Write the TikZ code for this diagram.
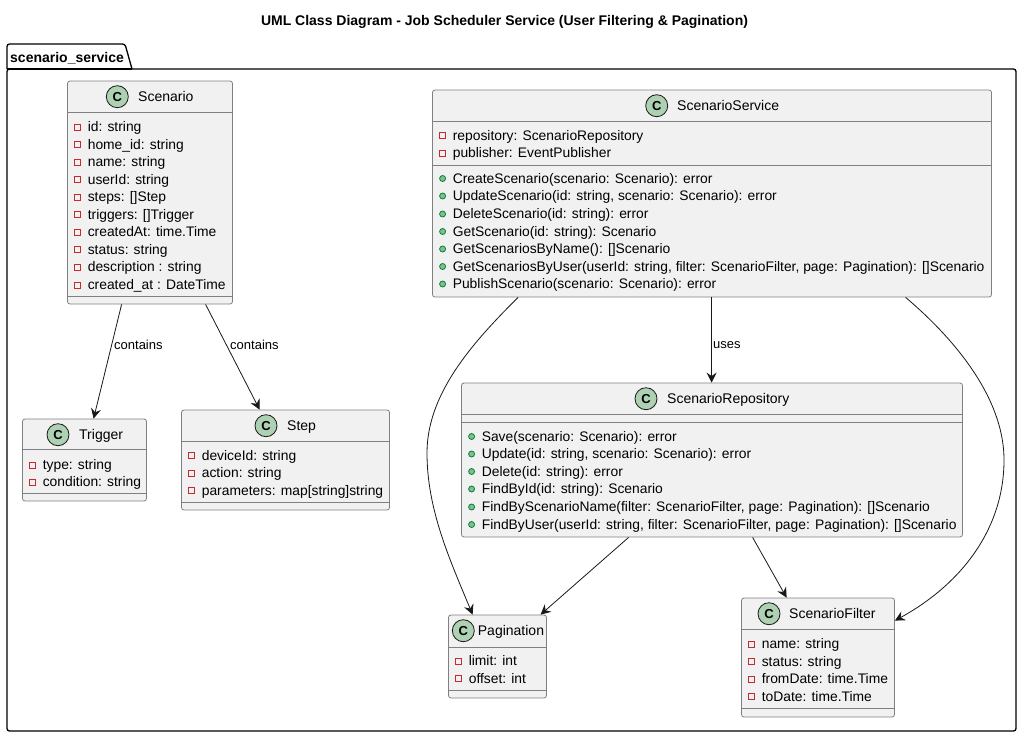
\documentclass[tikz,border=0pt]{standalone}
\usepackage{fontspec}
\setmainfont{Liberation Sans}
\usepackage{tikz}
\usetikzlibrary{arrows.meta, calc}
\definecolor{boxFill}{RGB}{241,241,241}
\definecolor{boxLine}{RGB}{128,128,128}
\definecolor{lineDark}{RGB}{24,24,24}
\definecolor{spotFill}{RGB}{173,209,178}
\definecolor{privRed}{RGB}{200,41,48}
\definecolor{pubFill}{RGB}{132,190,132}
\definecolor{pubLine}{RGB}{3,128,72}
\tikzset{
  classbox/.style={draw=boxLine, fill=boxFill, line width=0.8pt, rounded corners=2.5pt, inner sep=0pt},
  classline/.style={draw=boxLine, line width=0.8pt},
  spot/.style={circle, draw=lineDark, fill=spotFill, line width=0.8pt, minimum size=22pt, inner sep=0pt, font=\fontsize{13}{13}\selectfont\bfseries},
  classtitle/.style={anchor=base west, inner sep=0pt, font=\fontsize{14}{16}\selectfont, text=black},
  membertext/.style={anchor=base west, inner sep=0pt, font=\fontsize{13.85}{15}\selectfont, text=black},
  privmark/.style={rectangle, draw=privRed, line width=0.8pt, minimum size=6pt, inner sep=0pt},
  pubmark/.style={circle, draw=pubLine, fill=pubFill, line width=0.8pt, minimum size=6pt, inner sep=0pt},
  dep/.style={draw=lineDark, line width=0.8pt, -{Stealth[length=10pt, width=10pt, inset=3.5pt]}},
  deplabel/.style={anchor=west, inner sep=0pt, font=\fontsize{13}{15}\selectfont, text=black},
}
% box, spot and title of one class
\newcommand{\umlclass}[8]{
  \node[classbox, minimum width=#4-#2, minimum height=#5-#3] (#1) at ({(#2+#4)/2},{(#3+#5)/2}) {};
  \node[spot] (#1-spot) at (#7,#3+15.7) {C};
  \node[classtitle] (#1-title) at (#8,#3+20.5) {#6};
}
\newcommand{\umlsep}[2]{
  \draw[classline] (#1.west |- 0,#2) -- (#1.east |- 0,#2);
}
\newcommand{\umlfields}[2]{
  \foreach \ypos/\txt in {#2}{
    \node[privmark] (#1-m\ypos) at ([xshift=10.5pt]#1.west |- 0,\ypos) {};
    \node[membertext] (#1-t\ypos) at ([xshift=20.5pt]#1.west |- 0,\ypos+4.5) {\txt};
  }
}
\newcommand{\umlmethods}[2]{
  \foreach \ypos/\txt in {#2}{
    \node[pubmark] (#1-m\ypos) at ([xshift=10.5pt]#1.west |- 0,\ypos) {};
    \node[membertext] (#1-t\ypos) at ([xshift=20.5pt]#1.west |- 0,\ypos+4.5) {\txt};
  }
}
\begin{document}
\begin{tikzpicture}[x=1pt, y=-1pt]
  \useasboundingbox (0,0) rectangle (1022,737);

  \node[anchor=base, inner sep=0pt, font=\fontsize{14}{16}\selectfont\bfseries] (diagramtitle) at (504.5,25) {UML Class Diagram - Job Scheduler Service (User Filtering \& Pagination)};

  % package frame
  \draw[line width=1.3pt, rounded corners=2.5pt] (7,69) -- (7,44) -- (125,44) -- (132,69);
  \draw[line width=1.3pt, rounded corners=2.5pt] (7,69) rectangle (1016,731);
  \draw[line width=1.3pt] (7,69) -- (132,69);
  \node[anchor=base west, inner sep=0pt, font=\fontsize{14}{16}\selectfont\bfseries] (packagename) at (10,62) {scenario\_service};

  \umlclass{scenario}{67.5}{81}{232.5}{304}{Scenario}{117.3}{138}
  \umlsep{scenario}{112}
  \umlsep{scenario}{296}
  \umlfields{scenario}{127/id: string, 144.5/home\_id: string, 162/name: string, 179.5/userId: string, 197/steps: []Step, 214.5/triggers: []Trigger, 232/createdAt: time.Time, 249.5/status: string, 267/description : string, 285/created\_at : DateTime}

  \umlclass{trigger}{22.5}{419}{146.5}{501}{Trigger}{58}{79}
  \umlsep{trigger}{449}
  \umlsep{trigger}{493}
  \umlfields{trigger}{465/type: string, 482/condition: string}

  \umlclass{step}{181.5}{410}{389.5}{510}{Step}{266}{287}
  \umlsep{step}{441}
  \umlsep{step}{502}
  \umlfields{step}{455.5/deviceId: string, 473/action: string, 490.5/parameters: map[string]string}

  \umlclass{service}{432.5}{90}{991.5}{297}{ScenarioService}{656.7}{677}
  \umlsep{service}{121}
  \umlsep{service}{165}
  \umlfields{service}{135.5/repository: ScenarioRepository, 153/publisher: EventPublisher}
  \umlmethods{service}{178.5/CreateScenario(scenario: Scenario): error, 196/{UpdateScenario(id: string, scenario: Scenario): error}, 214/DeleteScenario(id: string): error, 231.5/GetScenario(id: string): Scenario, 249/GetScenariosByName(): []Scenario, 266.5/{GetScenariosByUser(userId: string, filter: ScenarioFilter, page: Pagination): []Scenario}, 284/PublishScenario(scenario: Scenario): error}

  \umlclass{repository}{461.5}{383}{962.5}{537}{ScenarioRepository}{646}{667}
  \umlsep{repository}{414}
  \umlsep{repository}{422}
  \umlmethods{repository}{436.5/Save(scenario: Scenario): error, 454/{Update(id: string, scenario: Scenario): error}, 471.5/Delete(id: string): error, 489/FindById(id: string): Scenario, 507/{FindByScenarioName(filter: ScenarioFilter, page: Pagination): []Scenario}, 524.5/{FindByUser(userId: string, filter: ScenarioFilter, page: Pagination): []Scenario}}

  \umlclass{pagination}{448.5}{615}{546.5}{698}{Pagination}{463.3}{477.7}
  \umlsep{pagination}{647}
  \umlsep{pagination}{690}
  \umlfields{pagination}{661/limit: int, 678.5/offset: int}

  \umlclass{filter}{741.5}{598}{894.5}{717}{ScenarioFilter}{769}{789}
  \umlsep{filter}{629}
  \umlsep{filter}{708}
  \umlfields{filter}{644/name: string, 661.5/status: string, 679/fromDate: time.Time, 696.5/toDate: time.Time}

  % connectors
  \draw[dep] ([xshift=54.5pt]scenario.south west) -- ([xshift=71.5pt]trigger.north west);
  \draw[dep] ([xshift=138.5pt]scenario.south west) -- ([xshift=78.5pt]step.north west);
  \draw[dep] ([xshift=279.5pt]service.south west) -- ([xshift=250.5pt]repository.north west);
  \draw[dep] ([xshift=86pt]service.south west) .. controls (470,345) and (427,395) .. (427,453) .. controls (427,510) and (450,560) .. ([xshift=24.5pt]pagination.north west);
  \draw[dep] ([xshift=473.5pt]service.south west) .. controls (950,335) and (1004,395) .. (1004,460) .. controls (1004,530) and (960,585) .. ([yshift=-23pt]filter.north east);
  \draw[dep] ([xshift=167.5pt]repository.south west) -- ([xshift=92.5pt]pagination.north west);
  \draw[dep] ([xshift=291.5pt]repository.south west) -- ([xshift=45.5pt]filter.north west);

  \node[deplabel] (containsa) at (114,345) {contains};
  \node[deplabel] (containsb) at (230,345) {contains};
  \node[deplabel] (uses) at (713,345) {uses};
\end{tikzpicture}
\end{document}
